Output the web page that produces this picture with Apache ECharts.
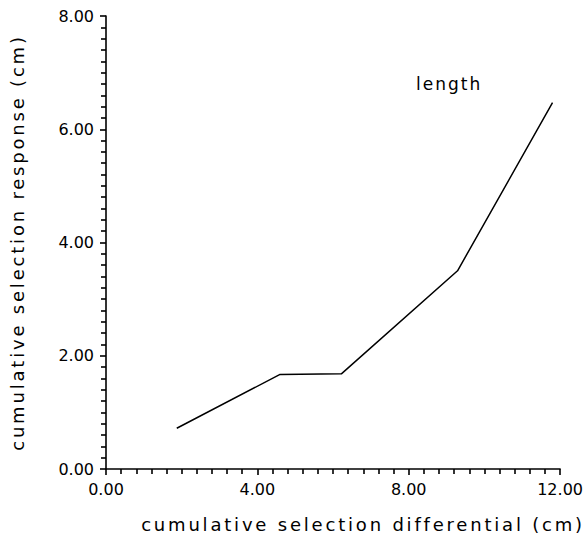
<!DOCTYPE html>
<html lang="en">
  <head>
    <meta charset="utf-8">
    <title>cumulative selection response</title>
    <script src="https://cdn.jsdelivr.net/npm/echarts@6/dist/echarts.min.js"></script>
    <style>
      html, body { margin: 0; padding: 0; background: #fff; }
      #chart { width: 586px; height: 541px; }
    </style>
  </head>
  <body>
    <div id="chart"></div>
    <script>
      // data
      var differential = [1.87, 4.6, 6.22, 9.29, 11.8];
      var response = [0.72, 1.67, 1.68, 3.5, 6.47];
      var seriesName = 'length';
      var xTicks = [0, 4, 8, 12];
      var yTicks = [0, 2, 4, 6, 8];

      var points = [];
      for (var i = 0; i < differential.length; i++) {
          points.push([differential[i], response[i]]);
      }

      var font = 'DejaVu Sans';
      var axisBase = {
          axisLine: { onZero: false, lineStyle: { color: '#000', width: 1.6 } },
          axisTick: { inside: false, length: 6, lineStyle: { color: '#000', width: 1.6 } },
          minorTick: { show: true, splitNumber: 10, length: 5, lineStyle: { color: '#000', width: 1.6 } },
          splitLine: { show: false },
          axisLabel: {
              color: '#000', fontFamily: font, fontSize: 16, margin: 12,
              formatter: function (v) { return v.toFixed(2); }
          }
      };

      var myChart = echarts.init(document.getElementById('chart'), null, { renderer: 'svg' });
      myChart.setOption({
          animation: false,
          backgroundColor: '#fff',
          grid: { left: 100, right: 25, top: 16, bottom: 72, containLabel: false },
          xAxis: Object.assign({}, axisBase, {
              type: 'value', min: xTicks[0], max: xTicks[xTicks.length - 1], interval: 4,
              name: 'cumulative selection differential (cm)',
              nameLocation: 'middle', nameGap: 46,
              nameTextStyle: { color: '#000', fontFamily: font, fontSize: 18, padding: [0, 0, 0, 60] }
          }),
          yAxis: Object.assign({}, axisBase, {
              type: 'value', min: yTicks[0], max: yTicks[yTicks.length - 1], interval: 2,
              name: 'cumulative selection response (cm)',
              nameLocation: 'middle', nameGap: 80,
              nameTextStyle: { color: '#000', fontFamily: font, fontSize: 18 }
          }),
          graphic: [{
              type: 'text', left: 416, top: 75,
              style: { text: seriesName, fill: '#000', font: '17px "DejaVu Sans"' }
          }],
          series: [{
              name: seriesName,
              type: 'line',
              data: points,
              showSymbol: false,
              lineStyle: { color: '#000', width: 1.5 }
          }]
      });

      // the plotter lettering is spaced wide: stretch the names a bit
      function spaceNames() {
          var texts = document.querySelectorAll('#chart svg text');
          for (var k = 0; k < texts.length; k++) {
              var t = texts[k].textContent;
              if (t.indexOf('cumulative') === 0) {
                  texts[k].setAttribute('letter-spacing', '2.8px');
              } else if (t === seriesName) {
                  texts[k].setAttribute('letter-spacing', '2px');
              }
          }
      }
      spaceNames();
      myChart.on('finished', spaceNames);
    </script>
  </body>
</html>
